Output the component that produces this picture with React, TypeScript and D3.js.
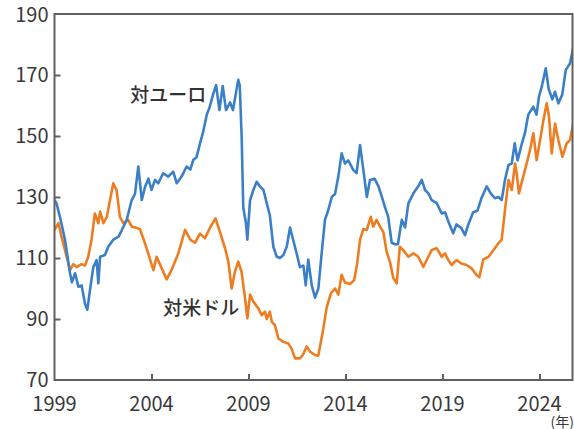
import * as d3 from 'd3';
import { useEffect, useRef } from "react";
import * as React from "react";

// yen per euro (blue)
const euroYears = [
    1999.0, 1999.1, 1999.28, 1999.54, 1999.8, 1999.9, 2000.06, 2000.23, 2000.4, 2000.57, 2000.69, 2000.83,
    2001.0, 2001.17, 2001.26, 2001.35, 2001.6, 2001.77, 2002.03, 2002.3, 2002.46, 2002.72, 2002.98,
    2003.15, 2003.32, 2003.5, 2003.67, 2003.84, 2004.0, 2004.18, 2004.35, 2004.6, 2004.86, 2005.12,
    2005.3, 2005.55, 2005.81, 2006.0, 2006.15, 2006.32, 2006.5, 2006.65, 2006.85, 2007.0, 2007.19,
    2007.33, 2007.5, 2007.67, 2007.84, 2008.05, 2008.2, 2008.47, 2008.55, 2008.65, 2008.73, 2008.87,
    2008.94, 2009.08, 2009.25, 2009.42, 2009.6, 2009.77, 2009.94, 2010.1, 2010.28, 2010.45, 2010.62,
    2010.8, 2010.97, 2011.14, 2011.3, 2011.48, 2011.65, 2011.83, 2011.95, 2012.08, 2012.26, 2012.43,
    2012.6, 2012.77, 2012.94, 2013.1, 2013.3, 2013.46, 2013.63, 2013.8, 2013.97, 2014.14, 2014.4,
    2014.57, 2014.75, 2014.92, 2015.1, 2015.26, 2015.5, 2015.7, 2015.87, 2016.03, 2016.2, 2016.38,
    2016.55, 2016.7, 2016.9, 2017.07, 2017.24, 2017.5, 2017.75, 2017.93, 2018.1, 2018.27, 2018.44,
    2018.7, 2018.96, 2019.13, 2019.3, 2019.55, 2019.72, 2019.97, 2020.16, 2020.33, 2020.58, 2020.8,
    2021.0, 2021.28, 2021.5, 2021.7, 2021.88, 2022.05, 2022.22, 2022.4, 2022.57, 2022.72, 2022.87,
    2023.07, 2023.25, 2023.42, 2023.68, 2023.85, 2023.97, 2024.11, 2024.32, 2024.47, 2024.66, 2024.8,
    2024.97, 2025.17, 2025.35, 2025.57, 2025.74,
];
const euroValues = [
    129, 128, 123.5, 116, 105, 102, 105, 100.6, 101, 95, 93, 99.5,
    107, 109.3, 101.7, 110.4, 111, 113.7, 116, 117, 119, 122.5, 129,
    131, 140, 129, 133.4, 136, 132.3, 135.6, 134.5, 137.8, 136.7, 138.3,
    134.5, 136.7, 140, 139, 142.1, 143, 147.6, 151, 157, 159.5, 164,
    166.7, 158.5, 166.4, 158.5, 161, 158.5, 168.4, 166.5, 149, 126.5, 121.4,
    116, 129, 132.3, 135, 133.4, 132.3, 128, 124, 113.7, 110.5, 110,
    111, 113.7, 120, 116, 111.5, 107, 107.5, 101, 109.5, 101, 97,
    100, 111.5, 122.5, 125.5, 130.1, 131, 136.7, 144.3, 141, 142, 138.9,
    137.8, 147, 138.9, 130, 135.6, 136, 133.5, 130.1, 126.8, 123.5, 115,
    114.5, 114.5, 122.5, 120, 127.9, 131.2, 133.5, 135.6, 132.3, 131.2, 129,
    128, 124.6, 125, 122, 118.1, 121, 119.8, 117.5, 121, 125, 125.5,
    129.5, 133.5, 131, 129.6, 130, 129, 135.6, 140.5, 141, 147.6, 142,
    147, 151, 157, 159.6, 157, 162.9, 166, 172.2, 165.5, 162, 164.5,
    160.7, 163.5, 171.6, 173.8, 179,
];

// yen per US dollar (orange)
const usdYears = [
    1999.0, 1999.2, 1999.4, 1999.63, 1999.8, 1999.97, 2000.14, 2000.4, 2000.57, 2000.74, 2000.91,
    2001.08, 2001.26, 2001.35, 2001.52, 2001.7, 2001.86, 2002.03, 2002.2, 2002.37, 2002.55, 2002.8,
    2002.98, 2003.24, 2003.4, 2003.6, 2003.83, 2004.1, 2004.26, 2004.5, 2004.78, 2005.03, 2005.38,
    2005.73, 2006.0, 2006.24, 2006.5, 2006.76, 2007.02, 2007.3, 2007.53, 2007.79, 2007.96, 2008.13,
    2008.3, 2008.47, 2008.64, 2008.82, 2008.94, 2009.08, 2009.25, 2009.5, 2009.68, 2009.85, 2009.94,
    2010.1, 2010.2, 2010.36, 2010.54, 2010.8, 2011.05, 2011.22, 2011.4, 2011.65, 2011.8, 2012.0,
    2012.17, 2012.43, 2012.6, 2012.86, 2013.03, 2013.25, 2013.46, 2013.63, 2013.8, 2013.97, 2014.23,
    2014.45, 2014.6, 2014.75, 2014.92, 2015.1, 2015.3, 2015.43, 2015.6, 2015.78, 2015.95, 2016.12,
    2016.3, 2016.46, 2016.64, 2016.8, 2016.97, 2017.24, 2017.5, 2017.75, 2018.01, 2018.27, 2018.44,
    2018.7, 2018.96, 2019.13, 2019.3, 2019.47, 2019.72, 2019.97, 2020.24, 2020.5, 2020.74, 2020.9,
    2021.1, 2021.37, 2021.63, 2021.88, 2022.05, 2022.22, 2022.4, 2022.57, 2022.74, 2022.82, 2022.94,
    2023.16, 2023.34, 2023.51, 2023.68, 2023.85, 2024.03, 2024.2, 2024.37, 2024.49, 2024.63, 2024.8,
    2024.97, 2025.18, 2025.4, 2025.57, 2025.74,
];
const usdValues = [
    119.2, 121.4, 116, 110.4, 106, 108, 107, 108, 107.5, 110.4, 116,
    124.6, 121.4, 125.2, 121.4, 123.5, 129, 134.5, 132.3, 123.5, 121.4, 122.5,
    120.3, 119.8, 119.5, 116, 111.5, 106, 110.4, 107, 103, 106, 111.5,
    119.2, 116, 115, 118, 116.5, 120, 123, 118.5, 113.2, 108.8, 100,
    105.5, 108.8, 105.5, 96.8, 90.2, 98, 95.7, 93.5, 91.3, 92.4, 90,
    92.4, 89.1, 88, 83.6, 82.5, 82, 80.3, 77.1, 77.1, 78.2, 81,
    79.3, 78.2, 78, 87, 93.8, 98.5, 100, 98, 104.5, 102, 101.5,
    102.8, 108.2, 116, 119.5, 119.2, 123.5, 120.3, 122.5, 120.3, 118.5, 112,
    108.5, 103.5, 101.7, 113.7, 112.6, 110.4, 111.5, 110.4, 107.1, 110.4, 112.6,
    113.2, 110.4, 111.5, 109.3, 107.7, 109.3, 108.2, 107.7, 106.6, 104.5, 103.7,
    109.5, 110.4, 112.6, 114.8, 116, 125.7, 135.6, 132.3, 141, 137.8, 131.2,
    136.7, 141, 145.4, 150.9, 142.1, 148.7, 155.2, 160.7, 156.3, 144.3, 154.1,
    148.7, 143.2, 147.6, 148.7, 154,
];

const yTicks = [70, 90, 110, 130, 150, 170, 190];
const xTicks = [1999, 2004, 2009, 2014, 2019, 2024];
const seriesLabels = ["対ユーロ", "対米ドル"];

const W = 574;
const H = 429;

export default function App() {
    const svgRef = useRef<SVGSVGElement | null>(null);

    useEffect(() => {
        const left = 54.5, right = 572.5, top = 14, bottom = 380;
        const font = "'Noto Sans CJK JP', 'Noto Sans', sans-serif";

        const svg = d3.select(svgRef.current).html("");

        const x = d3.scaleLinear().domain([1999, 2025.7]).range([left, right]);
        const y = d3.scaleLinear().domain([70, 190]).range([bottom, top]);

        svg.append("defs").append("clipPath").attr("id", "plot-clip")
            .append("rect")
            .attr("x", left).attr("y", top)
            .attr("width", right - left).attr("height", bottom - top);

        const line = d3.line<[number, number]>()
            .x(d => x(d[0]))
            .y(d => y(d[1]));

        const usd = usdYears.map((t, i) => [t, usdValues[i]] as [number, number]);
        const euro = euroYears.map((t, i) => [t, euroValues[i]] as [number, number]);

        const lines = svg.append("g").attr("clip-path", "url(#plot-clip)");
        lines.append("path")
            .attr("d", line(usd))
            .attr("fill", "none")
            .attr("stroke", "#ee7d21")
            .attr("stroke-width", 2.6)
            .attr("stroke-linejoin", "round");
        lines.append("path")
            .attr("d", line(euro))
            .attr("fill", "none")
            .attr("stroke", "#3b80c6")
            .attr("stroke-width", 2.6)
            .attr("stroke-linejoin", "round");

        // frame
        svg.append("rect")
            .attr("x", left).attr("y", top)
            .attr("width", right - left).attr("height", bottom - top)
            .attr("fill", "none")
            .attr("stroke", "#606060")
            .attr("stroke-width", 2);

        // inward ticks
        const yAxis = d3.axisRight(y).tickValues(yTicks.slice(1, -1)).tickSize(6).tickFormat(() => "");
        svg.append("g")
            .attr("transform", `translate(${left},0)`)
            .call(yAxis)
            .call(g => g.select(".domain").remove())
            .selectAll("line").attr("stroke", "#606060").attr("stroke-width", 2);

        const xAxis = d3.axisTop(x).tickValues(xTicks.slice(1)).tickSize(6).tickFormat(() => "");
        svg.append("g")
            .attr("transform", `translate(0,${bottom})`)
            .call(xAxis)
            .call(g => g.select(".domain").remove())
            .selectAll("line").attr("stroke", "#606060").attr("stroke-width", 2);

        svg.append("g").selectAll("text")
            .data(yTicks)
            .enter()
            .append("text")
            .attr("x", left - 6)
            .attr("y", d => y(d) + (d === 190 ? 1 : 0))
            .attr("dy", "0.36em")
            .attr("text-anchor", "end")
            .attr("font-family", font)
            .attr("font-size", 20)
            .attr("fill", "#3a3a3a")
            .text(d => d);

        svg.append("g").selectAll("text")
            .data(xTicks)
            .enter()
            .append("text")
            .attr("x", d => x(d))
            .attr("y", 411)
            .attr("text-anchor", "middle")
            .attr("font-family", font)
            .attr("font-size", 20)
            .attr("fill", "#3a3a3a")
            .text(d => d);

        svg.append("text")
            .attr("x", 574)
            .attr("y", 427)
            .attr("text-anchor", "end")
            .attr("font-family", font)
            .attr("font-size", 14)
            .attr("fill", "#3a3a3a")
            .text("(年)");

        svg.append("text")
            .attr("x", x(2002.9))
            .attr("y", y(163.5))
            .attr("dy", "0.36em")
            .attr("font-family", font)
            .attr("font-size", 19)
            .attr("font-weight", 500)
            .attr("fill", "#333")
            .text(seriesLabels[0]);

        svg.append("text")
            .attr("x", x(2004.6))
            .attr("y", y(93.5))
            .attr("dy", "0.36em")
            .attr("font-family", font)
            .attr("font-size", 19)
            .attr("font-weight", 500)
            .attr("fill", "#333")
            .text(seriesLabels[1]);
    }, []);

    return (
        <svg ref={svgRef} width={W} height={H}
             style={{ position: "absolute", left: 0, top: 0, background: "#fff" }} />
    );
}
